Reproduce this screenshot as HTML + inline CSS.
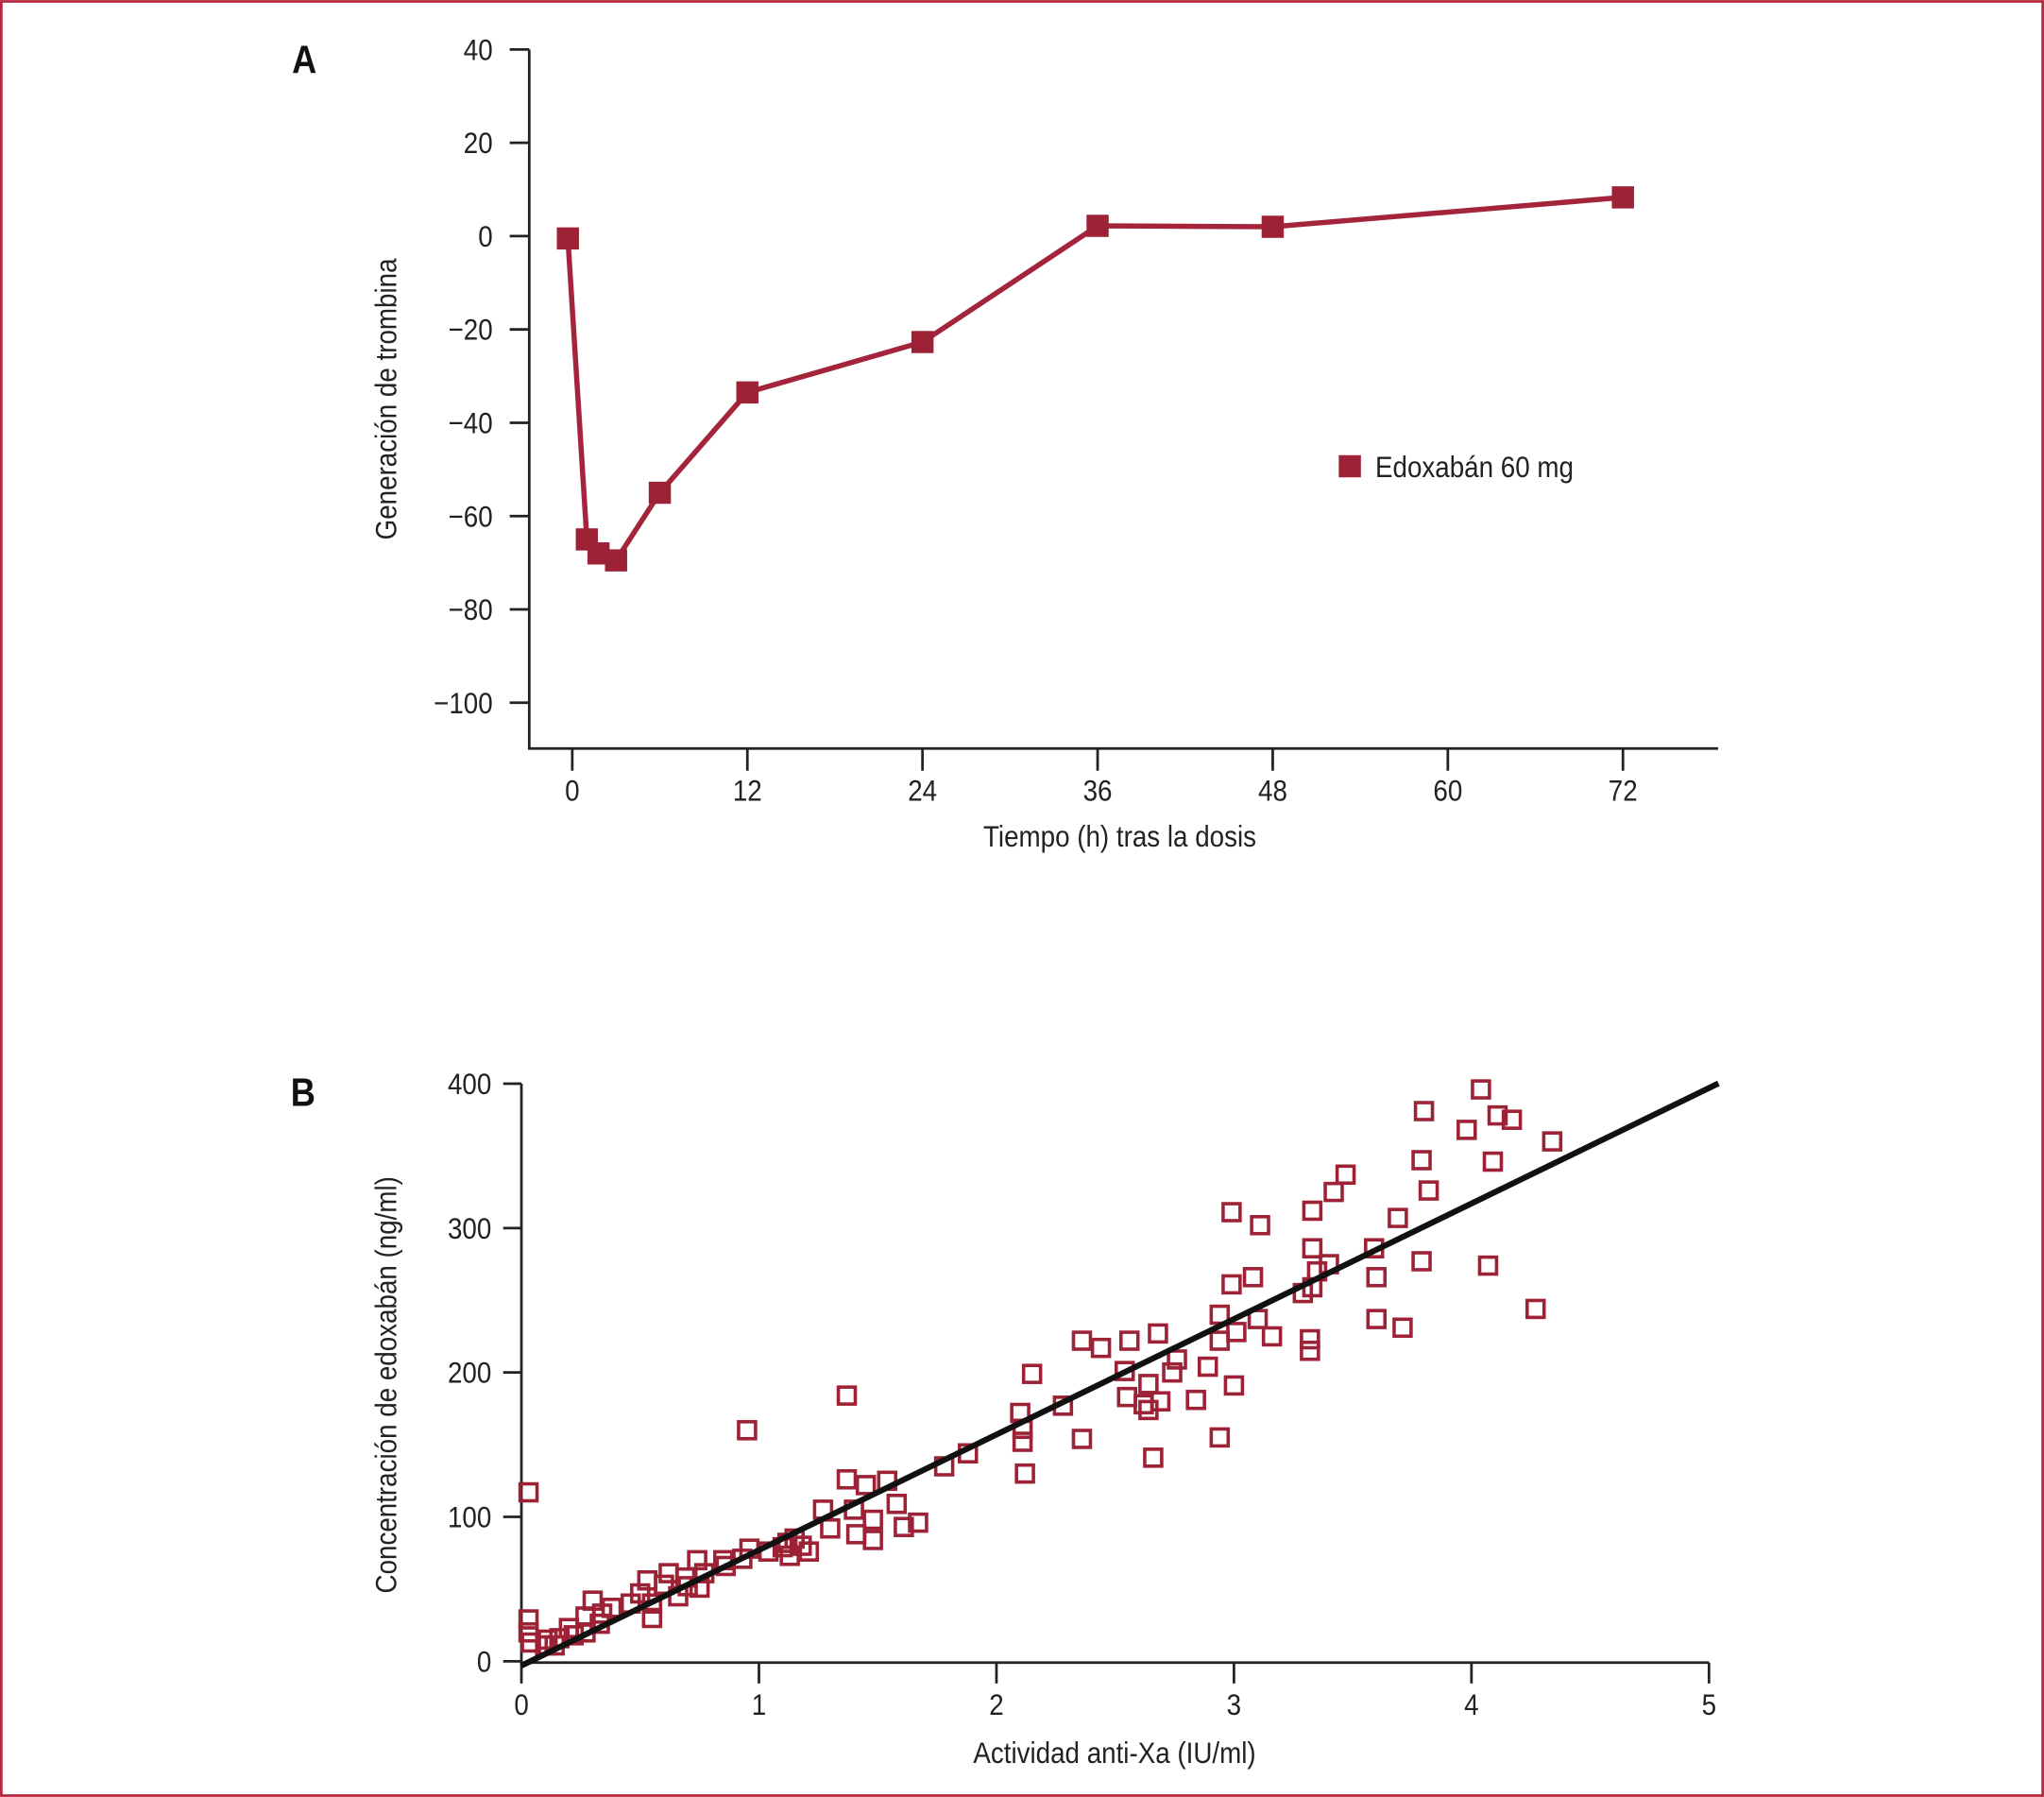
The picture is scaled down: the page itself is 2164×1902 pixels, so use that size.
<!DOCTYPE html>
<html><head><meta charset="utf-8"><style>
html,body{margin:0;padding:0;background:#fff;}
svg{display:block;font-family:"Liberation Sans Narrow","Liberation Sans",sans-serif;}
</style></head><body>
<svg id="fig" width="2164" height="1902" viewBox="0 0 1568 1378">
<rect x="1" y="1" width="1566" height="1376" fill="#fff" stroke="#b5283f" stroke-width="2"/>
<g id="ga"></g>
<g id="gb"></g>
</svg>
<script>
// Chart A data
const aTimes = [-0.3, 1, 1.8, 3, 6, 12, 24, 36, 48, 72];
const aValues = [-0.5, -65, -68, -69.5, -55, -33.5, -22.7, 2.2, 2, 8.3];
const aXTicks = [0, 12, 24, 36, 48, 60, 72];
const aYTicks = [40, 20, 0, -20, -40, -60, -80, -100];
// Chart B data
const bActivity = [0.03,0.95,1.37,4.04,3.8,4.11,4.17,3.98,4.34,3.79,4.09,3.47,3.82,3.42,2.99,3.33,3.69,3.11,3.33,3.59,3.4,3.79,4.07,3.35,3.08,3.6,2.99,3.33,3.29,4.27,2.94,3.6,3.1,3.71,3.01,3.16,2.68,2.94,3.32,2.36,2.56,2.44,3.32,2.76,2.89,2.54,2.74,2.15,2.64,3.0,2.55,2.62,2.69,2.84,2.28,2.64,2.1,2.11,2.11,2.94,2.36,1.88,1.78,2.66,2.12,1.37,1.54,1.45,1.27,1.58,1.4,1.48,1.67,1.61,1.3,1.41,1.48,1.15,1.1,1.21,0.96,1.04,1.13,0.93,0.85,0.74,0.86,0.77,0.62,0.53,0.69,0.6,0.75,0.66,0.55,0.46,0.38,0.3,0.34,0.27,0.55,0.33,0.2,0.27,0.16,0.11,0.03,0.03,0.04,0.1,0.14,0.22,1.18,1.12,0.7,0.5];
const bConc = [117,160,184,396,381,378,375,368,360,347,346,337,326,325,311,312,307,302,286,286,275,277,274,270,266,266,261,259,255,244,240,237,237,231,228,225,227,222,223,222,222,217,215,209,204,201,200,199,192,191,183,178,180,181,177,174,172,161,152,155,154,144,135,141,130,126,125,122,105,109,105,98,96,93,92,88,84,85,79,76,78,76,73,71,70,70,66,61,61,56,58,53,51,45,40,40,37,42,33,31,30,26,23,20,16,15,29,20,13,11,11,18,80,82,52,47];
const bXTicks = [0, 1, 2, 3, 4, 5];
const bYTicks = [0, 100, 200, 300, 400];
const fitIntercept = -3;
const fitSlope = 80;

const NS = "http://www.w3.org/2000/svg";
function mk(parent, tag, attrs, text) {
  const e = document.createElementNS(NS, tag);
  for (const k in attrs) e.setAttribute(k, attrs[k]);
  if (text !== undefined) e.textContent = text;
  parent.appendChild(e);
  return e;
}
function tx(parent, x, y, str, anchor, size, rot, bold) {
  let tr = 'translate(' + x + ',' + y + ')' + (rot ? ' rotate(' + rot + ')' : '') + ' scale(0.875,1)';
  const a = {x: 0, y: 0, 'font-size': size || 23, 'text-anchor': anchor || 'start', fill: '#222', transform: tr};
  if (bold) { a['font-weight'] = 'bold'; a.fill = '#111'; }
  return mk(parent, 'text', a, str);
}
const RED = "#9e2236";

// ---------- Chart A ----------
const ga = document.getElementById('ga');
const ax = t => 439 + (t - 0) * (1245 - 439) / 72;
const ay = v => 181 - v * (501 / 140);
let e;
e = tx(ga, 224, 56, 'A', 'start', 30, 0, true);


e = mk(ga, 'path', {d: 'M406 38 V574 H1318', fill: 'none', stroke: '#222', 'stroke-width': 2});


aYTicks.forEach(v => {
  const y = ay(v);
  const t = mk(ga, 'line', {x1: 391, x2: 406, y1: y, y2: y, stroke: '#222', 'stroke-width': 2});
  
  
  const l = tx(ga, 378, y + 8, v < 0 ? '\u2212' + (-v) : String(v), 'end');
  
  
});
aXTicks.forEach(v => {
  const x = ax(v);
  const t = mk(ga, 'line', {x1: x, x2: x, y1: 574, y2: 591, stroke: '#222', 'stroke-width': 2});
  
  
  const l = tx(ga, x, 614, String(v), 'middle');
  
  
});
e = tx(ga, 859, 649, 'Tiempo (h) tras la dosis', 'middle');


e = tx(ga, 304, 306, 'Generación de trombina', 'middle', 23, -90);


e = mk(ga, 'polyline', {points: aTimes.map((t, i) => ax(t) + ',' + ay(aValues[i])).join(' '), fill: 'none', stroke: '#a3243b', 'stroke-width': 4});


aTimes.forEach((t, i) => {
  const m = mk(ga, 'rect', {x: ax(t) - 8.5, y: ay(aValues[i]) - 8.5, width: 17, height: 17, fill: RED});
  
  
});
e = mk(ga, 'rect', {x: 1027, y: 349, width: 17, height: 17, fill: RED});


e = tx(ga, 1055, 366, 'Edoxabán 60 mg', 'start');



// ---------- Chart B ----------
const gb = document.getElementById('gb');
const bx = v => 400 + v * (1311 - 400) / 5;
const by = v => 1274 - v * (443 / 400);
e = tx(gb, 223, 848, 'B', 'start', 30, 0, true);


e = mk(gb, 'path', {d: 'M400 831 V1275 H1311', fill: 'none', stroke: '#222', 'stroke-width': 2});


bYTicks.forEach(v => {
  const y = by(v);
  const t = mk(gb, 'line', {x1: 386, x2: 400, y1: y, y2: y, stroke: '#222', 'stroke-width': 2});
  
  
  const l = tx(gb, 377, y + 8, String(v), 'end');
  
  
});
bXTicks.forEach(v => {
  const x = bx(v);
  const t = mk(gb, 'line', {x1: x, x2: x, y1: 1275, y2: 1291, stroke: '#222', 'stroke-width': 2});
  
  
  const l = tx(gb, x, 1315, String(v), 'middle');
  
  
});
e = tx(gb, 855, 1352, 'Actividad anti-Xa (IU/ml)', 'middle');


e = tx(gb, 304, 1062, 'Concentración de edoxabán (ng/ml)', 'middle', 23, -90);


bActivity.forEach((v, i) => {
  const m = mk(gb, 'rect', {x: bx(v) - 6.5, y: by(bConc[i]) - 6.5, width: 13, height: 13, fill: 'none', stroke: RED, 'stroke-width': 2.6});
  
  
});
e = mk(gb, 'line', {x1: bx(0), y1: by(fitIntercept), x2: bx(5.04), y2: by(fitIntercept + fitSlope * 5.04), stroke: '#111', 'stroke-width': 4.5});


</script>
</body></html>
